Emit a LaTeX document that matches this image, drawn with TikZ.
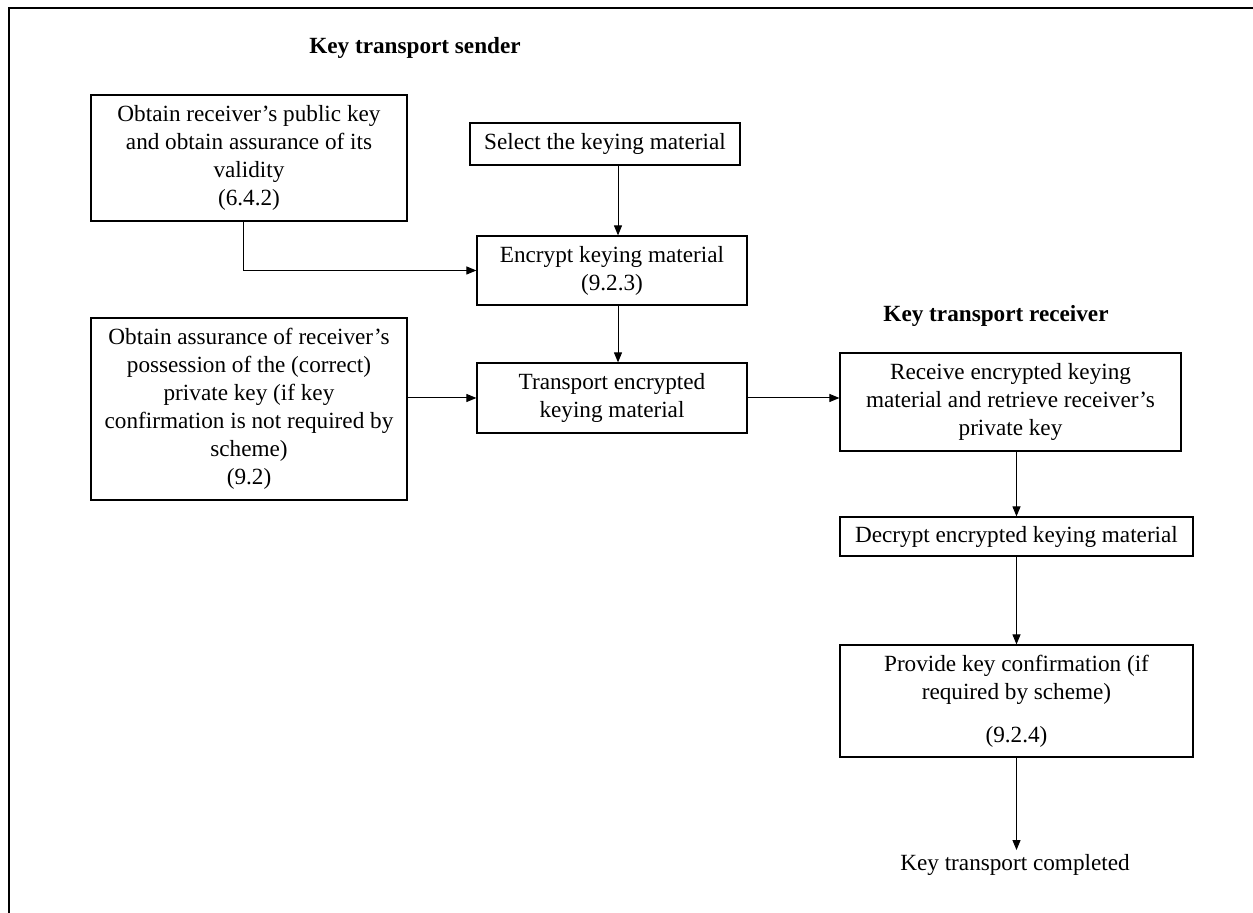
\documentclass[tikz,border=0pt]{standalone}
\usepackage{fontspec}
\setmainfont{Liberation Serif}
\usetikzlibrary{arrows.meta, positioning}

\begin{document}
\begin{tikzpicture}[
    x=0.5pt, y=-0.5pt,
    >={Triangle[length=5pt, width=4pt]},
    every node/.style={font=\fontsize{11.6}{14}\selectfont},
    box/.style={draw, line width=0.6pt, align=center, inner sep=0pt},
    title/.style={font=\fontsize{11.6}{14}\selectfont\bfseries},
    arrow/.style={->, line width=0.5pt}
]

\useasboundingbox (0,0) rectangle (1253,913);

% === Marco ===
\draw[line width=1pt] (1253,8) -- (9,8) -- (9,913);

% === Emisor ===
\node[title] (tsend) at (415,48) {Key transport sender};

\node[box, minimum width=158pt, minimum height=63pt] (pubkey) at (249,158)
    {Obtain receiver’s public key\\ and obtain assurance of its\\ validity\\ (6.4.2)};
\node[box, minimum width=135pt, minimum height=21pt] (select) at (605,144)
    {Select the keying material};
\node[box, minimum width=135pt, minimum height=34.5pt] (encrypt) at (612,270.5)
    {Encrypt keying material\\ (9.2.3)};
\node[box, minimum width=158pt, minimum height=91pt] (possess) at (249,409)
    {Obtain assurance of receiver’s\\ possession of the (correct)\\ private key (if key\\ confirmation is not required by\\ scheme)\\ (9.2)};
\node[box, minimum width=135pt, minimum height=35pt] (transport) at (612,398)
    {Transport encrypted\\ keying material};

% === Receptor ===
\node[title] (trecv) at (996,316) {Key transport receiver};

\node[box, minimum width=170.5pt, minimum height=49pt] (receive) at (1010.5,402)
    {Receive encrypted keying\\ material and retrieve receiver’s\\ private key};
\node[box, minimum width=176.5pt, minimum height=19.5pt] (decrypt) at (1016.5,536.5)
    {Decrypt encrypted keying material};
\node[box, minimum width=176.5pt, minimum height=56pt] (confirm) at (1016.5,701)
    {Provide key confirmation (if\\ required by scheme)\\[7.5pt] (9.2.4)};
\node[inner sep=2pt] (done) at (1015,865) {Key transport completed};

% === Flechas ===
\draw[arrow] ([xshift=3pt]encrypt.north |- select.south) -- ([xshift=3pt]encrypt.north);
\draw[arrow] ([xshift=-3pt]pubkey.south) |- (encrypt.west);
\draw[arrow] ([xshift=3pt]encrypt.south) -- ([xshift=3pt]transport.north);
\draw[arrow] (possess.east |- transport.west) -- (transport.west);
\draw[arrow] (transport.east) -- (receive.west |- transport.east);
\draw[arrow] (receive.south -| decrypt.north) -- (decrypt.north);
\draw[arrow] (decrypt.south) -- (confirm.north);
\draw[arrow] (confirm.south) -- (confirm.south |- done.north);

\end{tikzpicture}
\end{document}
